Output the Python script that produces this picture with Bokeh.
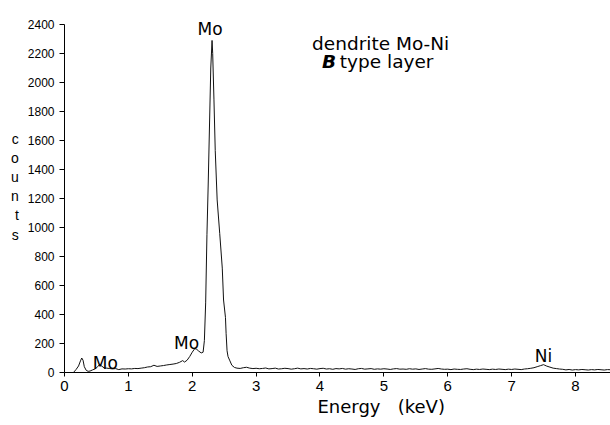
from bokeh.plotting import figure
from bokeh.models import Range1d, Label, FixedTicker, Title
from bokeh.embed import file_html
from bokeh.resources import INLINE

# ---- spectrum ----
energy_kev = [
    0.10, 0.14, 0.18, 0.22, 0.25, 0.27, 0.29, 0.31, 0.34, 0.37, 0.40, 0.44, 0.48, 0.52,
    0.55, 0.58, 0.62, 0.66, 0.70, 0.75, 0.80, 0.85, 0.90, 0.95, 1.00, 1.05, 1.10, 1.15,
    1.20, 1.25, 1.30, 1.35, 1.40, 1.45, 1.50, 1.55, 1.60, 1.65, 1.70, 1.75, 1.80, 1.85,
    1.88, 1.92, 1.96, 2.00, 2.04, 2.07, 2.10, 2.14, 2.17, 2.19, 2.21, 2.23, 2.25, 2.27,
    2.29, 2.31, 2.32, 2.34, 2.36, 2.39, 2.43, 2.47, 2.49, 2.52, 2.53, 2.545, 2.56, 2.59,
    2.62, 2.66,
    2.70, 2.75, 2.80, 2.85, 2.90, 2.95, 3.00, 3.05, 3.10, 3.15, 3.20, 3.25, 3.30, 3.35,
    3.40, 3.45, 3.50, 3.55, 3.60, 3.65, 3.70, 3.75, 3.80, 3.85, 3.90, 3.95, 4.00, 4.05,
    4.10, 4.15, 4.20, 4.25, 4.30, 4.35, 4.40, 4.45, 4.50, 4.55, 4.60, 4.65, 4.70, 4.75,
    4.80, 4.85, 4.90, 4.95, 5.00, 5.05, 5.10, 5.15, 5.20, 5.25, 5.30, 5.35, 5.40, 5.45,
    5.50, 5.55, 5.60, 5.65, 5.70, 5.75, 5.80, 5.85, 5.90, 5.95, 6.00, 6.05, 6.10, 6.15,
    6.20, 6.25, 6.30, 6.35, 6.40, 6.45, 6.50, 6.55, 6.60, 6.65, 6.70, 6.75, 6.80, 6.85,
    6.90, 6.95, 7.00, 7.05, 7.10, 7.15, 7.20, 7.25, 7.30, 7.35, 7.40, 7.45, 7.50, 7.52,
    7.55, 7.60, 7.65, 7.70, 7.75, 7.80, 7.85, 7.90, 7.95, 8.00, 8.05, 8.10, 8.15, 8.20,
    8.25, 8.30, 8.35, 8.40, 8.45, 8.50, 8.55,
]
counts = [
    0, 0, 20, 45, 80, 100, 85, 40, 15, 8, 10, 18, 25, 40,
    55, 45, 32, 30, 28, 25, 27, 20, 25, 24, 26, 25, 28, 27,
    30, 33, 38, 40, 50, 42, 45, 48, 52, 55, 58, 62, 70, 82,
    72, 85, 110, 140, 165, 160, 148, 135, 140, 220, 480, 950, 1300, 1700,
    2100, 2290, 2200, 1880, 1530, 1190, 960, 720, 500, 380, 270, 150, 110, 80,
    50, 35,
    30, 28, 33, 36, 30, 27, 29, 26, 28, 31, 25, 27, 30, 24,
    26, 29, 27, 23, 26, 30, 25, 27, 24, 28, 26, 23, 27, 29,
    24, 26, 22, 27, 25, 28, 23, 26, 24, 21, 26, 28, 23, 25,
    27, 22, 25, 23, 26, 24, 21, 25, 27, 23, 24, 22, 26, 23,
    25, 21, 24, 27, 23, 22, 25, 28, 24, 22, 23, 20, 24, 22,
    21, 24, 26, 22, 20, 23, 21, 24, 22, 20, 23, 21, 24, 22,
    20, 23, 21, 24, 22, 20, 24, 26, 29, 33, 40, 47, 54, 50,
    44, 37, 30, 27, 24, 22, 18, 21, 17, 20, 18, 21, 19, 17,
    20, 18, 21, 19, 17, 20, 19,
]

x_ticks = [0, 1, 2, 3, 4, 5, 6, 7, 8]
y_ticks = [0, 200, 400, 600, 800, 1000, 1200, 1400, 1600, 1800, 2000, 2200, 2400]

peak_labels = ["Mo", "Mo", "Mo", "Ni"]
peak_label_kev = [0.64, 1.91, 2.28, 7.50]
peak_label_counts = [64, 202, 2370, 117]

Y_MAX = 2400
# frame reaches the top of the canvas; the axis itself stops at 2400
Y_TOP = Y_MAX * 372 / 348

p = figure(width=610, height=425, output_backend="svg", toolbar_location=None,
           x_range=Range1d(0, 8.548), y_range=Range1d(0, Y_TOP),
           min_border_left=64, min_border_right=0, min_border_top=0,
           min_border_bottom=53)
p.outline_line_color = None
p.grid.visible = False
p.background_fill_color = "white"
p.border_fill_color = "white"

p.line(energy_kev, counts, line_color="#111111", line_width=1)

for ax in (p.xaxis[0], p.yaxis[0]):
    ax.axis_line_color = "black"
    ax.axis_line_width = 1
    ax.major_tick_line_color = "black"
    ax.major_tick_in = 0
    ax.minor_tick_line_color = None
    ax.major_label_text_font = "Liberation Sans"
    ax.major_label_text_color = "black"

p.yaxis.bounds = (0, Y_MAX)
p.xaxis.ticker = FixedTicker(ticks=x_ticks)
p.yaxis.ticker = FixedTicker(ticks=y_ticks)
p.xaxis.major_tick_out = 4
p.yaxis.major_tick_out = 5
p.xaxis.major_label_standoff = 4
p.yaxis.major_label_standoff = 5
p.xaxis.major_label_text_font_size = "15px"
p.yaxis.major_label_text_font_size = "12px"

# vertical stacked "counts" axis label
yax = p.yaxis[0]
yax.axis_label_text_font = "Liberation Sans"
yax.axis_label_text_font_size = "14px"
yax.axis_label_text_font_style = "normal"
yax.axis_label_text_color = "black"
yax.axis_label_standoff = 6
try:
    yax.axis_label_orientation = "horizontal"
    yax.axis_label = "c\no\nu\nn\nt\ns"
except Exception:
    yax.axis_label = "counts"

for t, xk, yc in zip(peak_labels, peak_label_kev, peak_label_counts):
    p.add_layout(Label(x=xk, y=yc, text=t, text_align="center",
                       text_baseline="alphabetic", text_font="DejaVu Sans",
                       text_font_size="17px", text_color="black"))

p.add_layout(Label(x=3.876, y=2267, text="dendrite Mo-Ni", text_align="left",
                   text_baseline="alphabetic", text_font="DejaVu Sans",
                   text_font_size="18.5px", text_color="black"))
p.add_layout(Label(x=4.03, y=2147, text="B", text_align="left",
                   text_baseline="alphabetic", text_font="DejaVu Sans",
                   text_font_style="bold italic",
                   text_font_size="18.5px", text_color="black"))
p.add_layout(Label(x=4.31, y=2147, text="type layer", text_align="left",
                   text_baseline="alphabetic", text_font="DejaVu Sans",
                   text_font_size="18.5px", text_color="black"))

xtitle = Title(text="Energy\u00a0\u00a0\u00a0(keV)", align="left", offset=253,
               standoff=0, text_font="DejaVu Sans", text_font_size="18px",
               text_font_style="normal", text_color="black")
p.add_layout(xtitle, "below")

open("out.html", "w").write(file_html(p, INLINE))
